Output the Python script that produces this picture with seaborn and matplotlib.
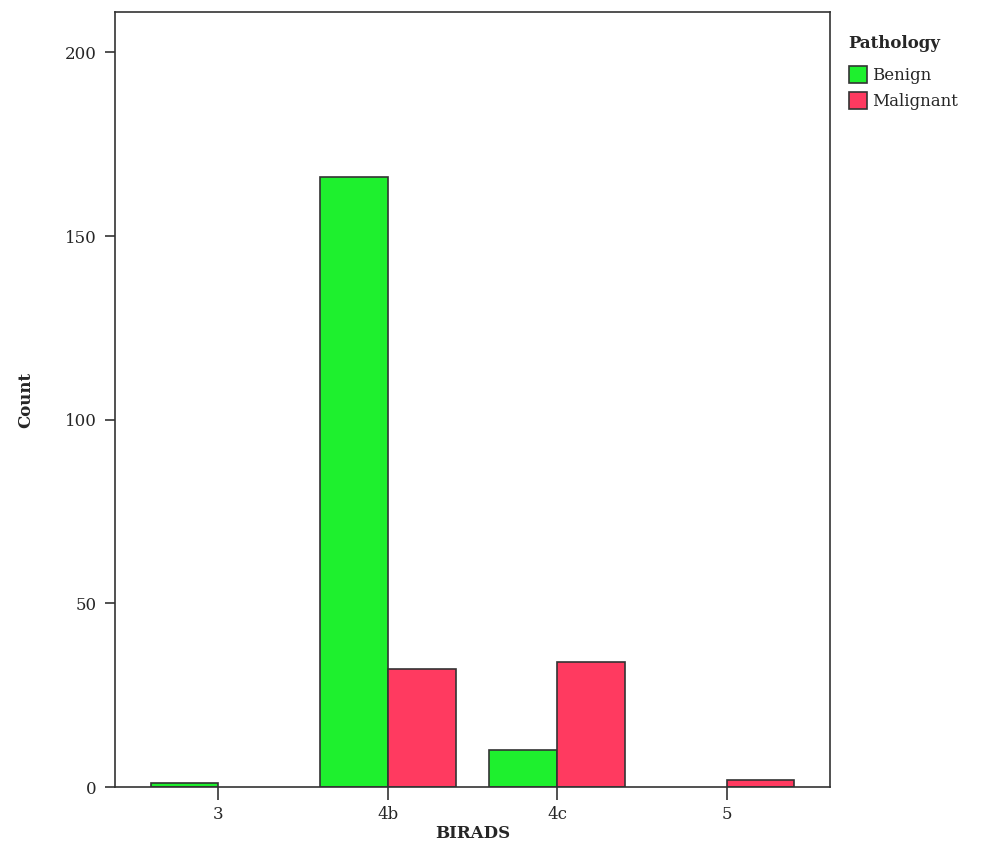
import matplotlib
matplotlib.use('Agg')
import matplotlib.pyplot as plt
import pandas as pd
import seaborn as sns

# data
birads = ['3', '4b', '4c', '5']
benign = [1, 166, 10, None]
malignant = [None, 32, 34, 2]

rows = []
for b, v in zip(birads, benign):
    rows.append({'BIRADS': b, 'Pathology': 'Benign', 'Count': v})
for b, v in zip(birads, malignant):
    rows.append({'BIRADS': b, 'Pathology': 'Malignant', 'Count': v})
df = pd.DataFrame(rows).dropna()

sns.set_style('white')
plt.rcParams['font.family'] = ['DejaVu Serif']

fig = plt.figure(figsize=(10, 8.42), dpi=100)
ax = fig.add_axes([0.115, 0.0653, 0.715, 0.9204])

sns.barplot(data=df, x='BIRADS', y='Count', hue='Pathology', order=birads,
            hue_order=['Benign', 'Malignant'],
            palette={'Benign': '#1ef02e', 'Malignant': '#ff3a60'},
            saturation=1, width=0.8, edgecolor='#333333', linewidth=1.2, ax=ax)

ax.set_xlim(-0.61, 3.61)
ax.set_ylim(0, 211)
ax.set_yticks([0, 50, 100, 150, 200])

for s in ax.spines.values():
    s.set_color('#333333')
    s.set_linewidth(1.2)

ax.tick_params(axis='x', direction='out', length=9, width=1.2, bottom=True,
               color='#333333', labelsize=12, pad=5)
ax.tick_params(axis='y', direction='out', length=7, width=1.2, left=True,
               color='#333333', labelsize=12, pad=6)
ax.set_xlabel('BIRADS', fontsize=12, fontweight='bold', labelpad=1)
ax.set_ylabel('Count', fontsize=12, fontweight='bold', labelpad=22)

leg = ax.legend(title='Pathology', loc='upper left', bbox_to_anchor=(1.005, 0.99),
                frameon=False, fontsize=12, title_fontproperties={'weight': 'bold', 'size': 12},
                handlelength=1.1, handleheight=1.2, handletextpad=0.3, labelspacing=0.5)
leg._legend_box.align = 'left'
leg._legend_box.sep = 10

fig.savefig('out.png', dpi=100)
